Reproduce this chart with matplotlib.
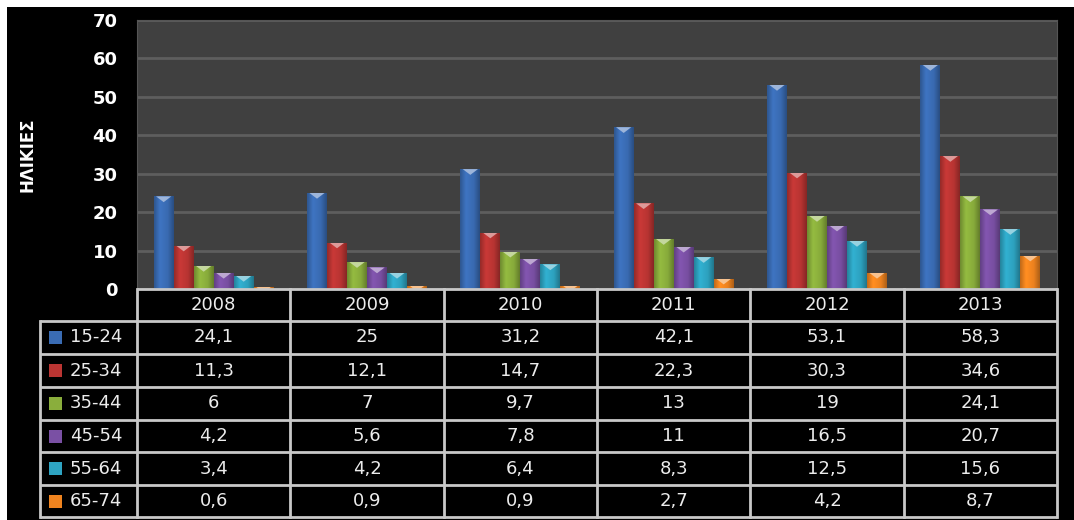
import numpy as np
import matplotlib
matplotlib.use("Agg")
import matplotlib.pyplot as plt
from matplotlib.colors import to_rgb
from matplotlib.patches import Polygon, Rectangle

# data
years = ["2008", "2009", "2010", "2011", "2012", "2013"]
ages = ["15-24", "25-34", "35-44", "45-54", "55-64", "65-74"]
v_15_24 = [24.1, 25, 31.2, 42.1, 53.1, 58.3]
v_25_34 = [11.3, 12.1, 14.7, 22.3, 30.3, 34.6]
v_35_44 = [6, 7, 9.7, 13, 19, 24.1]
v_45_54 = [4.2, 5.6, 7.8, 11, 16.5, 20.7]
v_55_64 = [3.4, 4.2, 6.4, 8.3, 12.5, 15.6]
v_65_74 = [0.6, 0.9, 0.9, 2.7, 4.2, 8.7]
series = [v_15_24, v_25_34, v_35_44, v_45_54, v_55_64, v_65_74]
colors = ["#3a6cb4", "#bb3533", "#8aae3c", "#7a50a4", "#2ea4c2", "#f0841f"]

W, H = 1074, 520
fig = plt.figure(figsize=(W / 100, H / 100), dpi=100, facecolor="white")

# black frame behind everything
bg = fig.add_axes([7 / W, 0, 1 - 7 / W, 1 - 7 / H], zorder=-1)
bg.set_facecolor("black")
bg.set_xticks([])
bg.set_yticks([])
for s in bg.spines.values():
    s.set_visible(False)

# plot area in pixels
PL, PR, PT, PB = 137, 1057, 20, 289
ax = fig.add_axes([PL / W, 1 - PB / H, (PR - PL) / W, (PB - PT) / H])
ax.set_facecolor("#404040")
ax.set_xlim(-0.5, 5.5)
ax.set_ylim(0, 70)
ax.set_yticks(range(0, 71, 10))
ax.set_xticks([])
ax.yaxis.grid(True, color="#5e5e5e", lw=2)
ax.set_axisbelow(True)
for s in ax.spines.values():
    s.set_color("#555555")
ax.tick_params(axis="y", length=0, pad=14, labelcolor="white", labelsize=13)
for t in ax.get_yticklabels():
    t.set_fontweight("bold")

fig.text(28 / W, 1 - 155 / H, "ΗΛΙΚΙΕΣ", rotation=90, color="white",
         fontsize=12, fontweight="bold", ha="center", va="center",
         family=["Liberation Sans Narrow", "DejaVu Sans"])

bw = 20 / ((PR - PL) / 6)
x = np.arange(len(years))
prof = np.interp(np.linspace(0, 1, 40), [0, 0.3, 0.7, 1], [0.8, 1.08, 0.98, 0.72])

for i, (vals, c) in enumerate(zip(series, colors)):
    pos = x + (i - 2.5) * bw
    bars = ax.bar(pos, vals, width=bw, color=c, lw=0, zorder=2)
    rgb = np.array(to_rgb(c))
    grad = np.clip(rgb[None, :] * prof[:, None], 0, 1)[None, :, :]
    light = rgb + (1 - rgb) * 0.5
    for b, xc, v in zip(bars, pos, vals):
        im = ax.imshow(grad, extent=[xc - bw / 2, xc + bw / 2, 0, v],
                       aspect="auto", zorder=3, interpolation="bilinear")
        im.set_clip_path(b)
        tri = Polygon([[xc - bw * 0.38, v], [xc + bw * 0.38, v], [xc, v - 1.5]],
                      closed=True, color=light, lw=0, zorder=4)
        ax.add_patch(tri)
        tri.set_clip_path(b)

# data table drawn in pixel coords
tb = fig.add_axes([0, 0, 1, 1], zorder=5)
tb.set_xlim(0, W)
tb.set_ylim(H, 0)
tb.axis("off")
lc = "#c8c8c8"
cw = (PR - PL) / 6
LL = 40
rows_y = [289, 321, 354, 387, 420, 452, 485, 517]
for k, yy in enumerate(rows_y):
    x0 = PL if k == 0 else LL
    tb.plot([x0, PR], [yy, yy], color=lc, lw=2, solid_capstyle="butt")
tb.plot([LL, LL], [rows_y[1], rows_y[-1]], color=lc, lw=2)
for j in range(7):
    xx = PL + j * cw
    tb.plot([xx, xx], [rows_y[0], rows_y[-1]], color=lc, lw=2)

txt = "#ececec"
for j, yr in enumerate(years):
    tb.text(PL + (j + 0.5) * cw, (rows_y[0] + rows_y[1]) / 2, yr, color=txt,
            fontsize=13, ha="center", va="center")
for i, (lab, vals, c) in enumerate(zip(ages, series, colors)):
    yc = (rows_y[i + 1] + rows_y[i + 2]) / 2
    tb.add_patch(Rectangle((49, yc - 6.5), 13, 13, color=c, lw=0))
    tb.text(70, yc, lab, color=txt, fontsize=13, ha="left", va="center")
    for j, v in enumerate(vals):
        s = ("%g" % v).replace(".", ",")
        tb.text(PL + (j + 0.5) * cw, yc, s, color=txt, fontsize=13,
                ha="center", va="center")

fig.savefig("out.png", dpi=100, facecolor="white")
